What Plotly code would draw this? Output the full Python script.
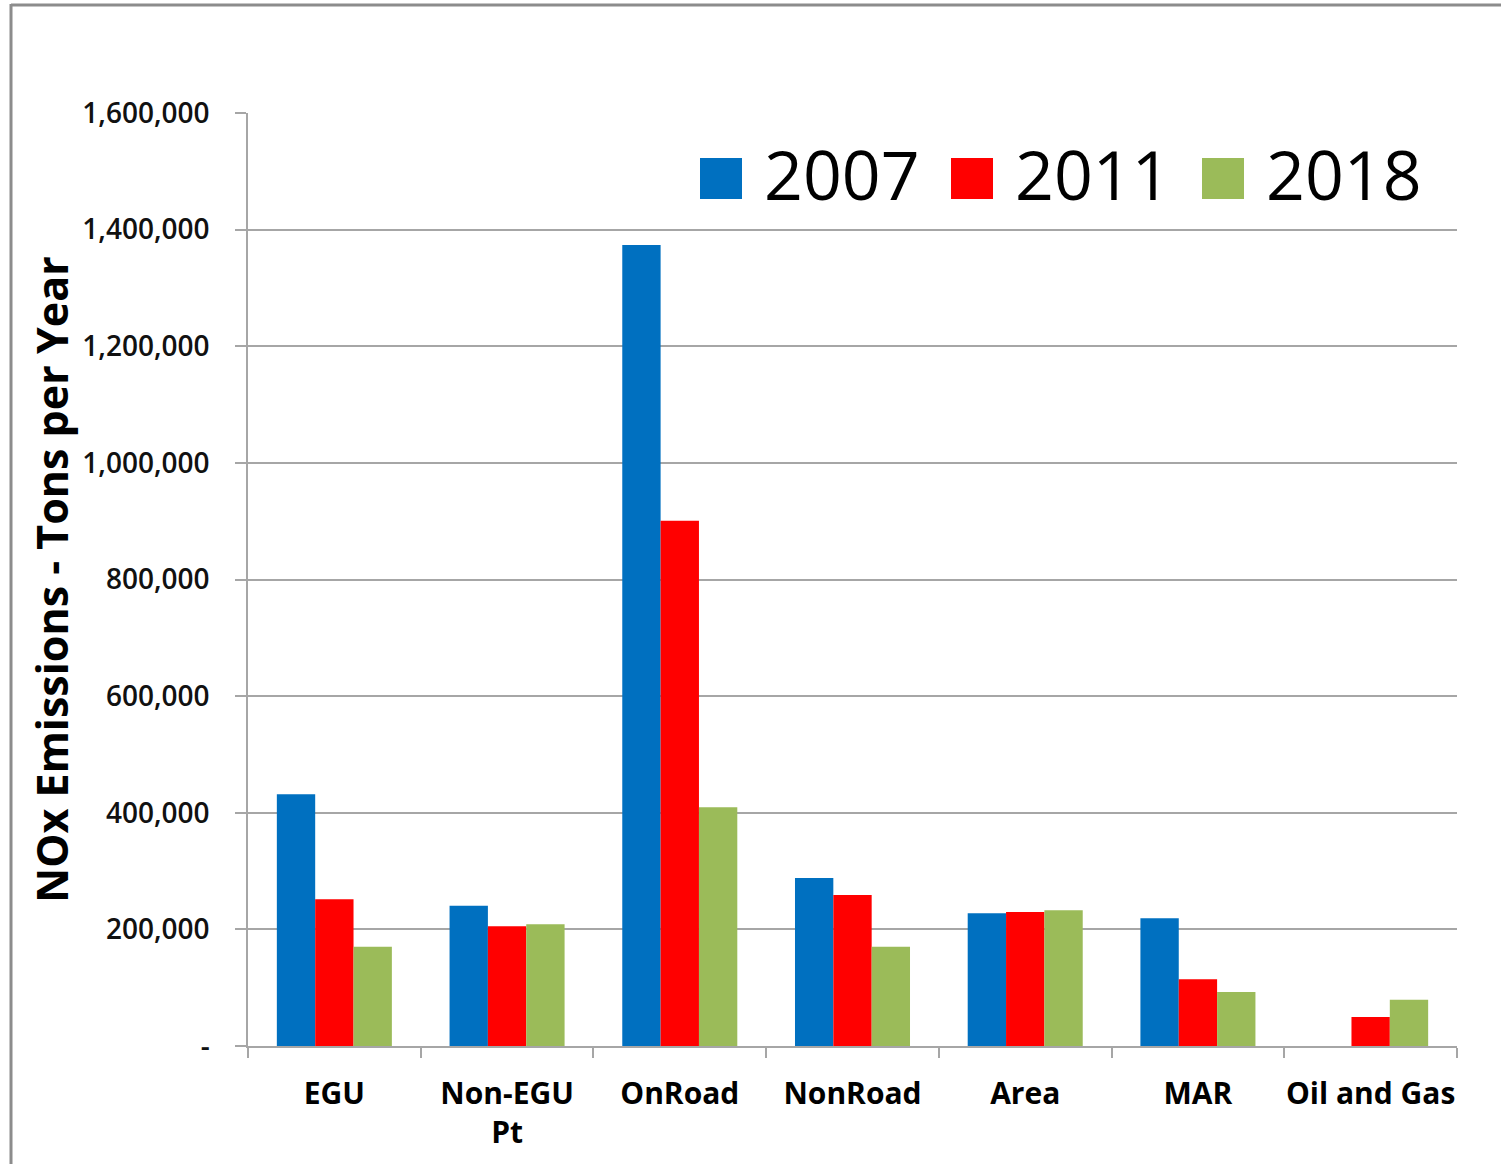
import plotly.graph_objects as go

categories = ["EGU", "Non-EGU<br>Pt", "OnRoad", "NonRoad", "Area", "MAR", "Oil and Gas"]
years = ["2007", "2011", "2018"]
values_2007 = [431600, 240600, 1373600, 288000, 227600, 219000, None]
values_2011 = [251500, 205300, 900800, 259000, 229800, 114400, 49700]
values_2018 = [170300, 208700, 409400, 170300, 232700, 92600, 79400]
colors = ["#0070C0", "#FF0000", "#9BBB59"]
y_tickvals = [0, 200000, 400000, 600000, 800000, 1000000, 1200000, 1400000, 1600000]
y_ticktext = ["-" if v == 0 else f"{v:,}" for v in y_tickvals]

FONT = "Open Sans"
W, H = 1501, 1164
L, R, T, B = 248, 44, 113, 118
PW, PH = W - L - R, H - T - B


def px(x):
    return (x - L) / PW


def py(y):
    return (H - B - y) / PH


fig = go.Figure()
for name, vals, col in zip(years, [values_2007, values_2011, values_2018], colors):
    fig.add_trace(go.Bar(
        x=categories, y=vals, name=name,
        marker=dict(color=col, line=dict(width=0)),
        showlegend=False,
    ))

shapes = [
    # outer frame (left and top edges)
    dict(type="line", xref="paper", yref="paper", x0=px(11), x1=px(11), y0=py(4), y1=py(H + 5),
         line=dict(color="#8c8c8c", width=3)),
    dict(type="line", xref="paper", yref="paper", x0=px(11), x1=px(W + 5), y0=py(5), y1=py(5),
         line=dict(color="#8c8c8c", width=3)),
]
annotations = []
# legend (drawn manually so symbols can match the large legend font)
leg_x = [700, 951, 1202]
for yr, col, x0 in zip(years, colors, leg_x):
    shapes.append(dict(type="rect", xref="paper", yref="paper",
                       x0=px(x0), x1=px(x0 + 42), y0=py(199), y1=py(158),
                       fillcolor=col, line=dict(width=0)))
    annotations.append(dict(xref="paper", yref="paper", x=px(x0 + 62), y=py(174),
                            xanchor="left", yanchor="middle", showarrow=False,
                            text=yr, font=dict(family=FONT, size=68, color="black")))

fig.update_layout(
    width=W, height=H,
    margin=dict(l=L, r=R, t=T, b=B),
    paper_bgcolor="white", plot_bgcolor="white",
    barmode="group", bargap=0.334, bargroupgap=0,
    shapes=shapes, annotations=annotations,
    font=dict(family=FONT, color="black"),
)
fig.update_yaxes(
    range=[0, 1600000], tickvals=y_tickvals, ticktext=y_ticktext,
    showgrid=True, gridcolor="#a6a6a6", gridwidth=1.5,
    showline=True, linecolor="#a6a6a6", linewidth=1.5,
    ticks="outside", ticklen=11, tickcolor="#a6a6a6", tickwidth=1.5,
    ticklabelstandoff=20,
    tickfont=dict(family=FONT, size=28, color="#111111", weight=600),
    title=dict(text="<b>NOx Emissions - Tons per Year</b>", standoff=0,
               font=dict(family=FONT, size=43, color="black")),
    zeroline=False, automargin=False,
)
fig.update_xaxes(
    type="category", tickson="boundaries", tickangle=0,
    showline=True, linecolor="#a6a6a6", linewidth=1.5,
    ticks="outside", ticklen=10, tickcolor="#a6a6a6", tickwidth=1.5,
    ticklabelstandoff=20,
    tickfont=dict(family=FONT, size=30, color="black", weight="bold"),
    showgrid=False, automargin=False,
)

fig.write_html("out.html")
